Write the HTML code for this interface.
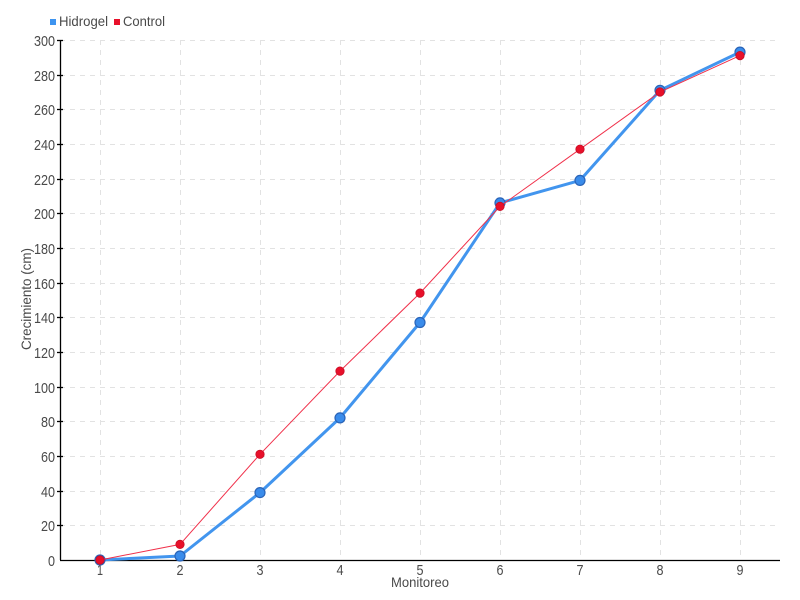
<!DOCTYPE html>
<html><head><meta charset="utf-8"><style>
html,body{margin:0;padding:0;background:#fff;}
svg{display:block;}
text{font-family:"Liberation Sans",sans-serif;fill:#4a4a4a;}
</style></head><body>
<svg width="800" height="600" viewBox="0 0 800 600" xmlns="http://www.w3.org/2000/svg">
<g stroke="#e2e2e2" stroke-width="1" stroke-dasharray="5,5">
<line x1="60" y1="40.5" x2="780" y2="40.5"/>
<line x1="60" y1="75.5" x2="780" y2="75.5"/>
<line x1="60" y1="109.5" x2="780" y2="109.5"/>
<line x1="60" y1="144.5" x2="780" y2="144.5"/>
<line x1="60" y1="179.5" x2="780" y2="179.5"/>
<line x1="60" y1="213.5" x2="780" y2="213.5"/>
<line x1="60" y1="248.5" x2="780" y2="248.5"/>
<line x1="60" y1="283.5" x2="780" y2="283.5"/>
<line x1="60" y1="317.5" x2="780" y2="317.5"/>
<line x1="60" y1="352.5" x2="780" y2="352.5"/>
<line x1="60" y1="387.5" x2="780" y2="387.5"/>
<line x1="60" y1="421.5" x2="780" y2="421.5"/>
<line x1="60" y1="456.5" x2="780" y2="456.5"/>
<line x1="60" y1="491.5" x2="780" y2="491.5"/>
<line x1="60" y1="525.5" x2="780" y2="525.5"/>
<line x1="100.5" y1="40" x2="100.5" y2="560"/>
<line x1="180.5" y1="40" x2="180.5" y2="560"/>
<line x1="260.5" y1="40" x2="260.5" y2="560"/>
<line x1="340.5" y1="40" x2="340.5" y2="560"/>
<line x1="420.5" y1="40" x2="420.5" y2="560"/>
<line x1="500.5" y1="40" x2="500.5" y2="560"/>
<line x1="580.5" y1="40" x2="580.5" y2="560"/>
<line x1="660.5" y1="40" x2="660.5" y2="560"/>
<line x1="740.5" y1="40" x2="740.5" y2="560"/>
</g>
<g stroke="#000" stroke-width="1.3">
<line x1="60.5" y1="40" x2="60.5" y2="560"/>
<line x1="60" y1="560.5" x2="780" y2="560.5"/>
<line x1="57" y1="40.5" x2="63" y2="40.5"/>
<line x1="57" y1="75.5" x2="63" y2="75.5"/>
<line x1="57" y1="109.5" x2="63" y2="109.5"/>
<line x1="57" y1="144.5" x2="63" y2="144.5"/>
<line x1="57" y1="179.5" x2="63" y2="179.5"/>
<line x1="57" y1="213.5" x2="63" y2="213.5"/>
<line x1="57" y1="248.5" x2="63" y2="248.5"/>
<line x1="57" y1="283.5" x2="63" y2="283.5"/>
<line x1="57" y1="317.5" x2="63" y2="317.5"/>
<line x1="57" y1="352.5" x2="63" y2="352.5"/>
<line x1="57" y1="387.5" x2="63" y2="387.5"/>
<line x1="57" y1="421.5" x2="63" y2="421.5"/>
<line x1="57" y1="456.5" x2="63" y2="456.5"/>
<line x1="57" y1="491.5" x2="63" y2="491.5"/>
<line x1="57" y1="525.5" x2="63" y2="525.5"/>
</g>
<g font-size="15" text-anchor="end">
<text x="55" y="46" textLength="21" lengthAdjust="spacingAndGlyphs">300</text>
<text x="55" y="81" textLength="21" lengthAdjust="spacingAndGlyphs">280</text>
<text x="55" y="115" textLength="21" lengthAdjust="spacingAndGlyphs">260</text>
<text x="55" y="150" textLength="21" lengthAdjust="spacingAndGlyphs">240</text>
<text x="55" y="185" textLength="21" lengthAdjust="spacingAndGlyphs">220</text>
<text x="55" y="219" textLength="21" lengthAdjust="spacingAndGlyphs">200</text>
<text x="55" y="254" textLength="21" lengthAdjust="spacingAndGlyphs">180</text>
<text x="55" y="289" textLength="21" lengthAdjust="spacingAndGlyphs">160</text>
<text x="55" y="323" textLength="21" lengthAdjust="spacingAndGlyphs">140</text>
<text x="55" y="358" textLength="21" lengthAdjust="spacingAndGlyphs">120</text>
<text x="55" y="393" textLength="21" lengthAdjust="spacingAndGlyphs">100</text>
<text x="55" y="427" textLength="14" lengthAdjust="spacingAndGlyphs">80</text>
<text x="55" y="462" textLength="14" lengthAdjust="spacingAndGlyphs">60</text>
<text x="55" y="497" textLength="14" lengthAdjust="spacingAndGlyphs">40</text>
<text x="55" y="531" textLength="14" lengthAdjust="spacingAndGlyphs">20</text>
<text x="55" y="566" textLength="7" lengthAdjust="spacingAndGlyphs">0</text>
</g>
<g font-size="15" text-anchor="middle">
<text x="100" y="575" textLength="6" lengthAdjust="spacingAndGlyphs">1</text>
<text x="180" y="575" textLength="7" lengthAdjust="spacingAndGlyphs">2</text>
<text x="260" y="575" textLength="7" lengthAdjust="spacingAndGlyphs">3</text>
<text x="340" y="575" textLength="7" lengthAdjust="spacingAndGlyphs">4</text>
<text x="420" y="575" textLength="7" lengthAdjust="spacingAndGlyphs">5</text>
<text x="500" y="575" textLength="7" lengthAdjust="spacingAndGlyphs">6</text>
<text x="580" y="575" textLength="7" lengthAdjust="spacingAndGlyphs">7</text>
<text x="660" y="575" textLength="7" lengthAdjust="spacingAndGlyphs">8</text>
<text x="740" y="575" textLength="7" lengthAdjust="spacingAndGlyphs">9</text>
</g>
<g font-size="14" text-anchor="middle">
<text x="420" y="587" textLength="58" lengthAdjust="spacingAndGlyphs">Monitoreo</text>
<text x="0" y="0" transform="translate(31,299) rotate(-90)" textLength="102" lengthAdjust="spacingAndGlyphs">Crecimiento (cm)</text>
</g>
<!-- legend -->
<rect x="50" y="19" width="6" height="6" fill="#3d94f0"/>
<text x="59" y="26" font-size="14" textLength="49" lengthAdjust="spacingAndGlyphs">Hidrogel</text>
<rect x="114" y="19" width="6" height="6" fill="#e8102a"/>
<text x="123" y="26" font-size="14" textLength="42" lengthAdjust="spacingAndGlyphs">Control</text>
<!-- Hidrogel -->
<polyline fill="none" stroke="#4295ee" stroke-width="3" stroke-linejoin="round" points="100,560 180,556 260,492.6 340,417.9 420,322.5 500,202.9 580,180.4 660,90.3 740,52.1"/>
<g fill="#3a8ceb" stroke="#2a64b8" stroke-width="1.2">
<circle cx="100" cy="560" r="5"/>
<circle cx="180" cy="556" r="5"/>
<circle cx="260" cy="492.6" r="5"/>
<circle cx="340" cy="417.9" r="5"/>
<circle cx="420" cy="322.5" r="5"/>
<circle cx="500" cy="202.9" r="5"/>
<circle cx="580" cy="180.4" r="5"/>
<circle cx="660" cy="90.3" r="5"/>
<circle cx="740" cy="52.1" r="5"/>
</g>
<!-- Control -->
<polyline fill="none" stroke="#f0304a" stroke-width="1" points="100,560 180,544.4 260,454.3 340,371.1 420,293.1 500,206.4 580,149.2 660,92 740,55.6"/>
<g fill="#e8102a" stroke="#c80c24" stroke-width="0.8">
<circle cx="100" cy="560" r="4.2"/>
<circle cx="180" cy="544.4" r="4.2"/>
<circle cx="260" cy="454.3" r="4.2"/>
<circle cx="340" cy="371.1" r="4.2"/>
<circle cx="420" cy="293.1" r="4.2"/>
<circle cx="500" cy="206.4" r="4.2"/>
<circle cx="580" cy="149.2" r="4.2"/>
<circle cx="660" cy="92" r="4.2"/>
<circle cx="740" cy="55.6" r="4.2"/>
</g>
</svg>
</body></html>
